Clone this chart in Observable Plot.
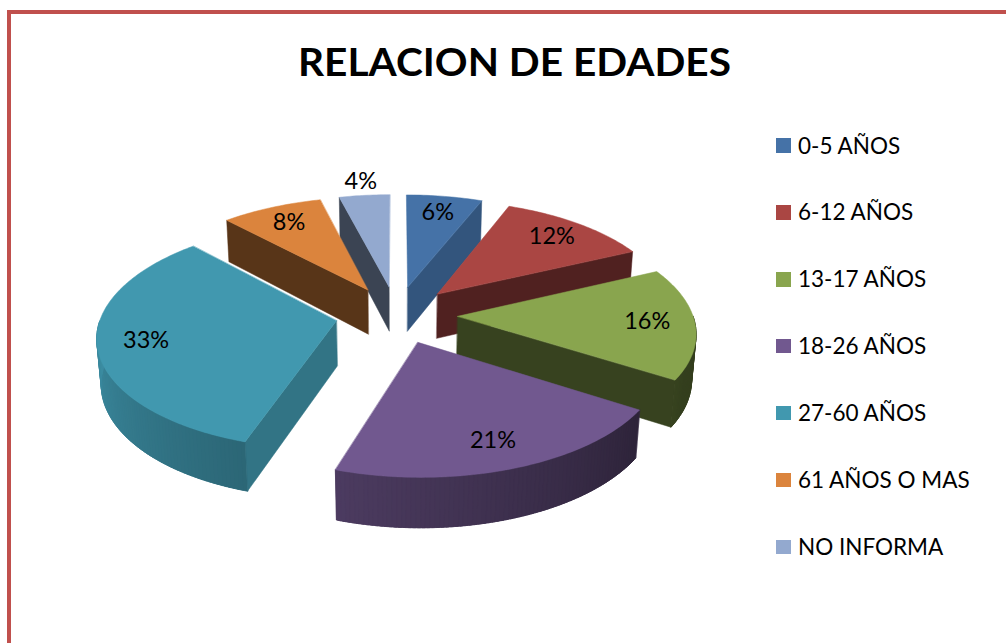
<!DOCTYPE html>
<html><head><meta charset="utf-8">
<script src="https://cdn.jsdelivr.net/npm/d3@7"></script>
<script src="https://cdn.jsdelivr.net/npm/@observablehq/plot@0.6"></script>
<style>
body{margin:0;background:#fff;}
#wrap{position:relative;width:1006px;height:643px;overflow:hidden;font-family:Lato,"Open Sans",sans-serif;background:#fff;}
#frame{position:absolute;left:7px;top:10px;width:1100px;height:700px;border-top:4px solid #C0504D;border-left:4px solid #C0504D;box-sizing:border-box;}
#chart{position:absolute;left:0;top:0;}
#title{position:absolute;left:0;top:0;}
#legend{position:absolute;left:776px;top:0;}
.row{position:absolute;left:0;display:flex;align-items:center;white-space:nowrap;height:20px;}
.sw{width:14.5px;height:14.5px;margin-right:7.5px;flex:none;}
.lt{font-size:22.5px;color:#000;line-height:20px;}
</style></head>
<body>
<div id="wrap">
  <div id="frame"></div>
  <div id="chart"></div>
  <svg id="title" width="1006" height="100"><text x="514.5" y="76" text-anchor="middle" font-family="Lato" font-weight="bold" font-size="39" textLength="433" lengthAdjust="spacingAndGlyphs" fill="#000">RELACION DE EDADES</text></svg>
  <div id="legend"></div>
</div>
<script>
// ---- data ----
const categories = ["0-5 AÑOS", "6-12 AÑOS", "13-17 AÑOS", "18-26 AÑOS", "27-60 AÑOS", "61 AÑOS O MAS", "NO INFORMA"];
const percents = [6, 12, 16, 21, 33, 8, 4];
const colors = ["#4572A7", "#AA4643", "#89A54E", "#71588F", "#4198AF", "#DB843D", "#93A9CF"];

// ---- 3D pie geometry ----
const W = 1006, H = 643;
const tilt = 28 * Math.PI / 180, camD = 7, explode = 0.26, depth = 0.22;
const cx = 396, cy = 314, pxPerUnit = 235;

function project(X, Y, Z) {
  const v = Y * Math.cos(tilt) - Z * Math.sin(tilt);
  const d = Y * Math.sin(tilt) + Z * Math.cos(tilt);
  const s = camD / (camD - d);
  return [X * s, v * s];
}
const total = d3.sum(percents);
let acc = 0;
const slices = percents.map((p, i) => {
  const a0 = acc / total * 2 * Math.PI; acc += p;
  const a1 = acc / total * 2 * Math.PI;
  const mid = (a0 + a1) / 2;
  return {i, p, a0, a1, mid, cX: explode * Math.sin(mid), cZ: -explode * Math.cos(mid)};
});
const order = slices.slice().sort((a, b) => a.cZ - b.cZ);
const shade = (c, f) => { const r = d3.rgb(c); return d3.rgb(r.r * f, r.g * f, r.b * f).formatHex(); };

const polys = [];
let pid = 0;
function addPoly(pts, fill) {
  const id = pid++;
  for (const [X, Y, Z] of pts) { const [x, y] = project(X, Y, Z); polys.push({id, x, y, fill}); }
}
const deg = Math.PI / 180;
const sideShade = (t) => Math.max(0.38, Math.min(0.95, 0.4 + 0.53 * (t / deg - 122) / 148));
for (const s of order) {
  const base = colors[s.i];
  const pt = (th, Y, r = 1) => [s.cX + r * Math.sin(th), Y, s.cZ - r * Math.cos(th)];
  const ctr = (Y) => [s.cX, Y, s.cZ];
  const faces = [];
  if (Math.sin(s.a0) < -1e-6) faces.push([s.a0, -Math.cos(s.a0)]);
  if (Math.sin(s.a1) > 1e-6) faces.push([s.a1, Math.cos(s.a1)]);
  for (const [a, nx] of faces) addPoly([ctr(0), pt(a, 0), pt(a, -depth), ctr(-depth)], shade(base, 0.4 + 0.4 * Math.max(0, nx) ** 2));
  const lo = Math.max(s.a0, Math.PI / 2), hi = Math.min(s.a1, 3 * Math.PI / 2);
  if (hi > lo) {
    const n = Math.ceil((hi - lo) / deg);
    // underlay of the whole curved side
    const under = [];
    for (let k = 0; k <= n; k++) under.push(pt(lo + (hi - lo) * k / n, 0));
    for (let k = n; k >= 0; k--) under.push(pt(lo + (hi - lo) * k / n, -depth));
    addPoly(under, shade(base, sideShade((lo + hi) / 2)));
    for (let k = 0; k < n; k++) {
      const t0 = lo + (hi - lo) * k / n, t1 = Math.min(hi, lo + (hi - lo) * (k + 1.6) / n);
      addPoly([pt(t0, 0), pt(t1, 0), pt(t1, -depth), pt(t0, -depth)], shade(base, sideShade((t0 + t1) / 2)));
    }
  }
  const top = [ctr(0)];
  const n = Math.ceil((s.a1 - s.a0) / deg);
  for (let k = 0; k <= n; k++) top.push(pt(s.a0 + (s.a1 - s.a0) * k / n, 0));
  addPoly(top, base);
}
const labels = slices.map(s => {
  const r = s.p < 5 ? 1.17 : 0.8;
  const [x, y] = project(s.cX + r * Math.sin(s.mid), 0, s.cZ - r * Math.cos(s.mid));
  return {x, y, text: s.p + "%"};
});

const chart = Plot.plot({
  width: W, height: H, margin: 0,
  style: {fontFamily: "Lato, sans-serif", background: "transparent"},
  x: {domain: [-cx / pxPerUnit, (W - cx) / pxPerUnit], axis: null},
  y: {domain: [-(H - cy) / pxPerUnit, cy / pxPerUnit], axis: null},
  color: {type: "identity"},
  marks: [
    Plot.line(polys, {x: "x", y: "y", z: "id", fill: "fill", stroke: "fill", strokeWidth: 0.5, curve: "linear-closed"}),
    Plot.text(labels, {x: "x", y: "y", text: "text", fontSize: 23.5, fill: "#000"})
  ]
});
document.getElementById("chart").appendChild(chart);

const leg = document.getElementById("legend");
categories.forEach((c, i) => {
  const row = document.createElement("div");
  row.className = "row";
  row.style.top = (135.5 + i * 66.9) + "px";
  row.innerHTML = `<div class="sw" style="background:${colors[i]}"></div><span class="lt">${c}</span>`;
  leg.appendChild(row);
});
</script>
</body></html>
